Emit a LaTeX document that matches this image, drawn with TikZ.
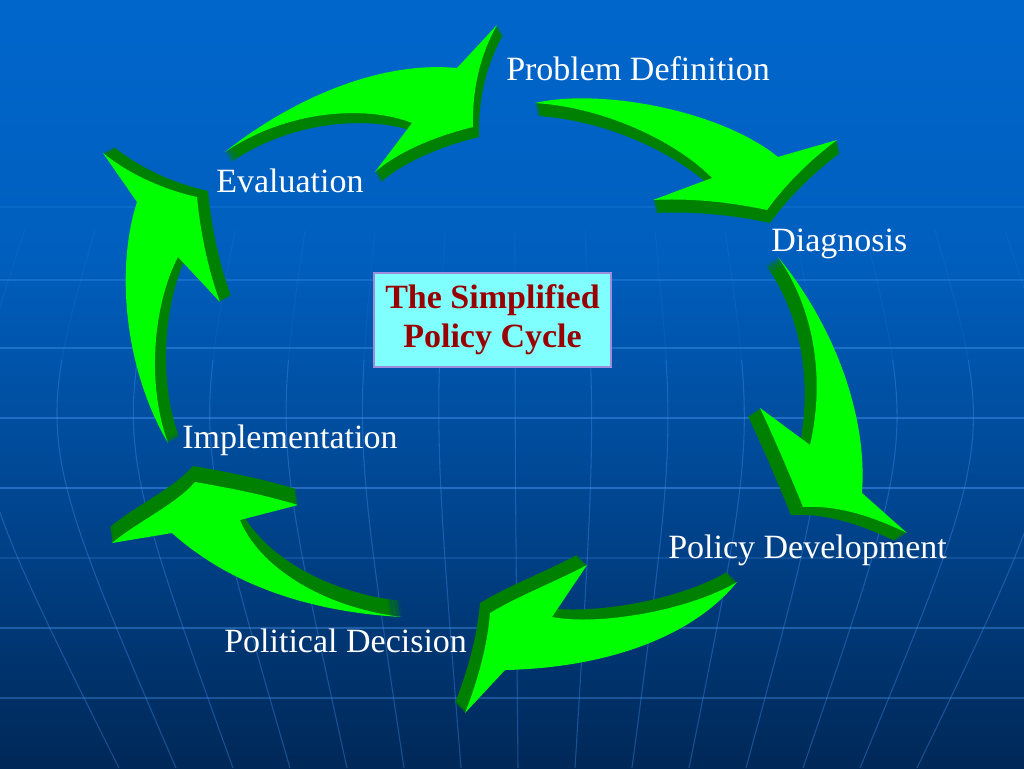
\documentclass[tikz,border=0pt]{standalone}
\usepackage{fontspec}
\setmainfont{Liberation Serif}
\definecolor{ltg}{RGB}{0,255,0}
\definecolor{dkg}{RGB}{0,128,0}
\definecolor{bgtop}{RGB}{0,102,204}
\definecolor{bgupper}{RGB}{0,95,190}
\definecolor{bglower}{RGB}{0,70,145}
\definecolor{bgbot}{RGB}{0,40,88}
\definecolor{gridc}{RGB}{70,150,245}
\definecolor{titlec}{RGB}{153,0,0}
\definecolor{boxc}{RGB}{128,255,255}
\definecolor{boxb}{RGB}{160,140,220}
\pgfdeclareverticalshading{bgshade}{100bp}{color(0bp)=(bgbot); color(25bp)=(bgbot); color(42.5bp)=(bglower); color(58.7bp)=(bgupper); color(75bp)=(bgtop); color(100bp)=(bgtop)}
% arrow shapes (pixel coordinates, y downwards)
\newcommand\arrowA[1]{\fill[#1] (225,152) .. controls (280,108) and (370,60) .. (457,68) -- (497,25) .. controls (480,55) and (472,90) .. (473,127) .. controls (440,135) and (400,150) .. (375,172) -- (412,123) .. controls (370,106) and (290,108) .. (225,152) -- cycle;}
\newcommand\arrowB[1]{\fill[#1] (535,103) .. controls (600,88) and (720,110) .. (778,157) -- (837,140) .. controls (810,160) and (785,185) .. (767,210) .. controls (730,202) and (690,198) .. (653,200) -- (712,178) .. controls (680,145) and (610,108) .. (535,103) -- cycle;}
\newcommand\arrowC[1]{\fill[#1] (778,257) .. controls (830,320) and (868,410) .. (862,493) -- (907,533) .. controls (870,515) and (835,505) .. (803,507) .. controls (790,475) and (775,440) .. (760,408) -- (810,445) .. controls (825,380) and (815,310) .. (778,257) -- cycle;}
\newcommand\arrowD[1]{\fill[#1] (737,582) .. controls (690,640) and (600,668) .. (505,670) -- (465,713) .. controls (480,675) and (488,640) .. (490,613) .. controls (520,595) and (555,582) .. (587,565) -- (552,617) .. controls (600,626) and (690,610) .. (737,582) -- cycle;}
\newcommand\arrowE[1]{\fill[#1] (402,617) .. controls (310,612) and (230,585) .. (172,533) -- (112,543) .. controls (140,520) and (175,505) .. (195,482) .. controls (230,488) and (265,495) .. (298,505) -- (240,520) .. controls (258,565) and (320,607) .. (402,617) -- cycle;}
\newcommand\arrowF[1]{\fill[#1] (168,443) .. controls (125,370) and (115,270) .. (137,202) -- (103,153) .. controls (130,175) and (165,190) .. (197,197) .. controls (200,230) and (208,270) .. (220,302) -- (178,257) .. controls (155,300) and (145,380) .. (168,443) -- cycle;}
\newcommand\extrudearrow[3]{%
  \foreach \t in {1,...,16}{#1{dkg,shift={({\t/16*(#2)},{\t/16*(#3)})}}}%
  #1{ltg}}
\newcommand\meridians[1]{%
  \foreach \k in {-7,...,7}
    \draw[meridian,opacity=#1] ({515+\k*70},230) .. controls ({515+\k*80},440) .. ({518+\k*57},768);}
\tikzset{
  lbl/.style={text=white,inner sep=0pt,anchor=base west,font=\fontsize{25.5}{30}\selectfont},
  titlebox/.style={fill=boxc,draw=boxb,line width=0.8pt,inner sep=0pt,minimum width=177.75pt,minimum height=70.5pt,align=center,text=titlec,font=\bfseries\fontsize{25.5}{29.25}\selectfont},
  hline/.style={draw=gridc,line width=1pt},
  meridian/.style={draw=gridc,line width=0.8pt}
}
\begin{document}
\begin{tikzpicture}[x=0.75pt,y=-0.75pt]
\useasboundingbox (0,0) rectangle (1024,768);
\fill[shading=bgshade] (0,0) rectangle (1024,768);
% globe grid
\foreach \yy/\op in {207/0.15,280/0.3,348/0.4,418/0.45,488/0.5,558/0.2,628/0.4,698/0.35}
  \draw[hline,opacity=\op] (0,\yy) -- (1024,\yy);
\meridians{0.1}
\begin{scope}
  \clip (0,360) rectangle (1024,768);
  \meridians{0.28}
\end{scope}
% arrows
\extrudearrow{\arrowA}{6}{10}
\extrudearrow{\arrowB}{3}{13}
\extrudearrow{\arrowC}{-12}{8}
\extrudearrow{\arrowD}{-10}{-10}
\extrudearrow{\arrowE}{-2}{-16}
\extrudearrow{\arrowF}{11}{-6}
% labels
\node[lbl] (pd) at (506,80) {Problem Definition};
\node[lbl] (ev) at (216,192) {Evaluation};
\node[lbl] (dg) at (771,251) {Diagnosis};
\node[lbl] (im) at (182,448) {Implementation};
\node[lbl] (pv) at (668,558) {Policy Development};
\node[lbl] (pc) at (224,652) {Political Decision};
\node[titlebox] (title) at (492.5,320) {The Simplified\\Policy Cycle};
\end{tikzpicture}
\end{document}
